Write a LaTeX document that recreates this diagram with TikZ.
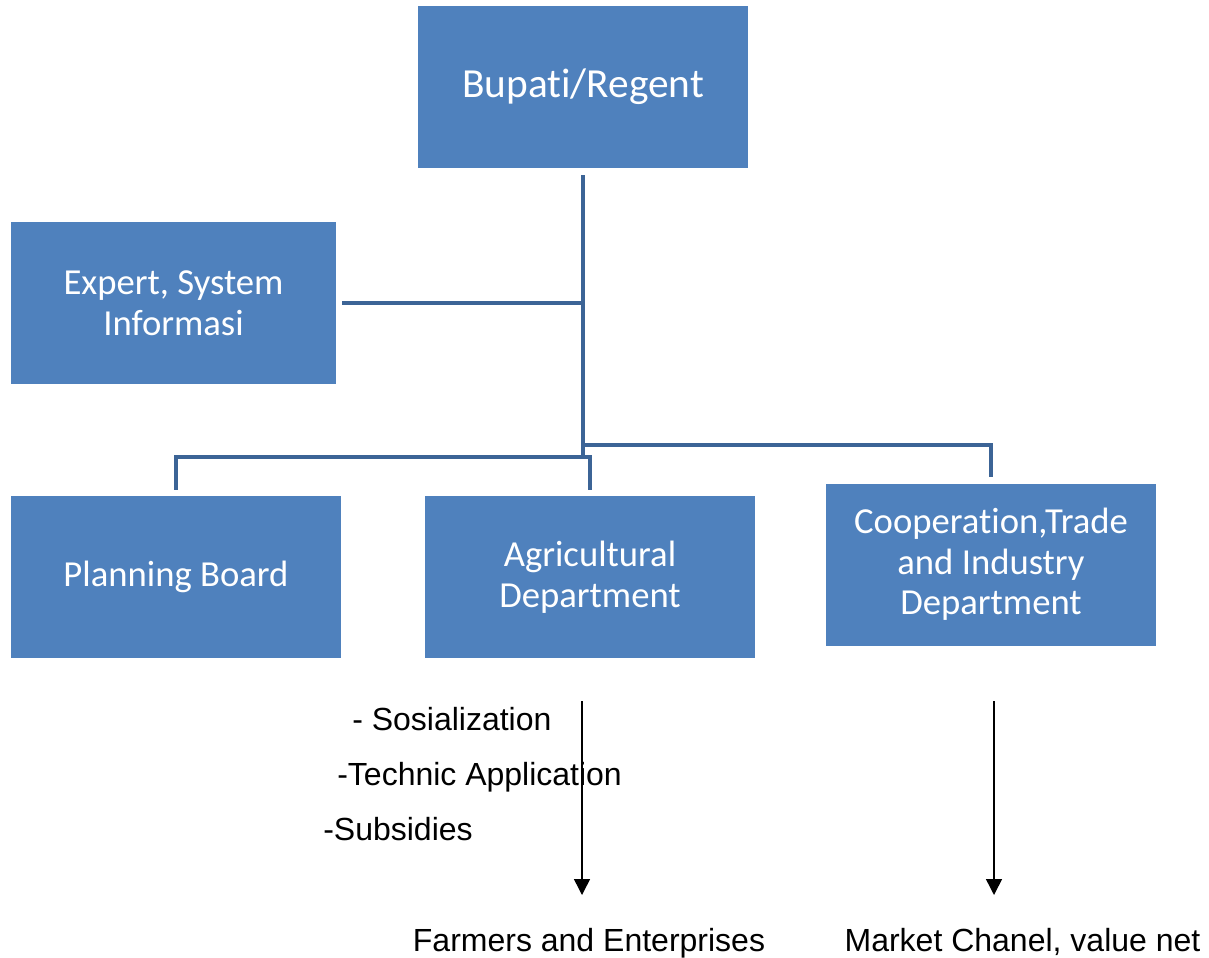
\documentclass[tikz,border=0pt]{standalone}
\usepackage{fontspec}
\setmainfont{Carlito}[Ligatures=NoCommon]
\newfontfamily\arialfont{Liberation Sans}
\usepackage{tikz}
\usetikzlibrary{arrows.meta}

\definecolor{boxblue}{HTML}{4F81BD}
\definecolor{linkblue}{HTML}{3C6496}

\tikzset{
  box/.style={fill=boxblue, text=white, align=center, minimum width=247.5pt,
    minimum height=121.5pt, inner sep=0pt, font=\fontsize{27.5}{30.5}\selectfont},
  link/.style={linkblue, line width=3pt},
  flow/.style={black, line width=1.1pt, -{Triangle[width=12pt,length=12pt]}},
  note/.style={inner sep=0pt, font=\arialfont\fontsize{24}{28}\selectfont}
}

\begin{document}
\begin{tikzpicture}[x=0.75pt, y=-0.75pt]
            \useasboundingbox (0,0) rectangle (1209,957);

            % Boxes
            \node[box, font=\fontsize{31}{34}\selectfont] (regent) at (583,86.5) {Bupati/Regent};
            \node[box, minimum width=243.75pt] (expert) at (173.5,303) {Expert, System\\Informasi};
            \node[box] (planning) at (176,577) {Planning Board};
            \node[box] (agri) at (590,577) {Agricultural\\Department};
            \node[box] (coop) at (991,564.5) {Cooperation,Trade\\and Industry\\Department};

            % Junctions
            \coordinate (top) at (583,175);
            \coordinate (mid) at (583,303);
            \coordinate (bottom) at (583,457);
            \coordinate (right) at (583,445);

            % Tree lines
            \draw[link] (top) -- (bottom);
            \draw[link] ([xshift=4.5pt]expert.east |- mid) -- (mid);
            \draw[link] (right) -| ([yshift=5pt]coop.north);
            \draw[link] ([yshift=4.5pt]planning.north) |- (bottom -| agri.north)
              -- ([yshift=4.5pt]agri.north);

            % Notes
            \node[note, anchor=base west] (sos) at (352,730.5) {- Sosialization};
            \node[note, anchor=base west] (tech) at (337,785.5) {-Technic Application};
            \node[note, anchor=base west] (subs) at (323,840.5) {-Subsidies};
            \node[note, anchor=base] (farmers) at (589,951) {Farmers and Enterprises};
            \node[note, anchor=base] (market) at (1022.5,951) {Market Chanel, value net};

            % Arrows
            \coordinate (agriout) at (582,701);
            \coordinate (agriin) at (582,895);
            \coordinate (coopout) at (994,701);
            \coordinate (coopin) at (994,895);
            \draw[flow] (agriout) -- (agriin);
            \draw[flow] (coopout) -- (coopin);
        \end{tikzpicture}
\end{document}
